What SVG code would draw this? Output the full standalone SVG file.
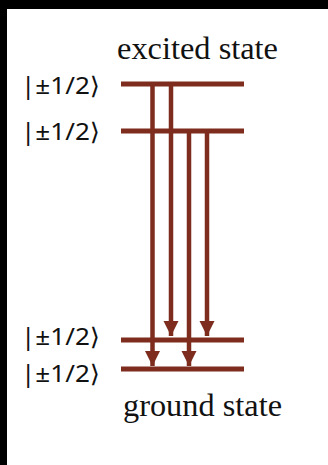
<svg xmlns="http://www.w3.org/2000/svg" width="328" height="465" viewBox="0 0 328 465">
  <style>
    .lvl { stroke: #7e2c1d; stroke-width: 5; stroke-linecap: butt; }
    .arr { stroke: #7e2c1d; stroke-width: 4.5; fill: none; }
    .ket { font-family: "Noto Sans", "DejaVu Sans", sans-serif; font-size: 24px; fill: #111; }
    .ttl { font-family: "Liberation Serif", "Times New Roman", serif; font-size: 31px; fill: #111; }
  </style>
  <defs>
    <marker id="ah" markerUnits="userSpaceOnUse" markerWidth="17" markerHeight="17" viewBox="0 0 17 17" refX="15" refY="8.5" orient="auto">
      <path d="M0,1 L15,8.5 L0,16 Z" fill="#7e2c1d"/>
    </marker>
  </defs>
  <rect x="0" y="0" width="328" height="465" fill="#ffffff"/>
  <rect x="0" y="0" width="328" height="9" fill="#000"/>
  <rect x="0" y="0" width="7" height="465" fill="#000"/>

  <text class="ttl" x="117" y="59" textLength="161" lengthAdjust="spacingAndGlyphs">excited state</text>
  <text class="ttl" x="123" y="416" textLength="159" lengthAdjust="spacingAndGlyphs">ground state</text>

  <g id="e1"><line class="lvl" x1="121" y1="84" x2="244" y2="84"/><text class="ket" x="21" y="94" textLength="79" lengthAdjust="spacingAndGlyphs">|±1/2⟩</text></g>
  <g id="e2"><line class="lvl" x1="121" y1="131" x2="244" y2="131"/><text class="ket" x="21" y="140" textLength="79" lengthAdjust="spacingAndGlyphs">|±1/2⟩</text></g>
  <g id="g1"><line class="lvl" x1="121" y1="340" x2="244" y2="340"/><text class="ket" x="21" y="345" textLength="79" lengthAdjust="spacingAndGlyphs">|±1/2⟩</text></g>
  <g id="g2"><line class="lvl" x1="121" y1="369" x2="244" y2="369"/><text class="ket" x="21" y="382" textLength="79" lengthAdjust="spacingAndGlyphs">|±1/2⟩</text></g>

  <g id="connectors">
    <line class="arr" x1="152.5" y1="84" x2="152.5" y2="366" marker-end="url(#ah)"/>
    <line class="arr" x1="171" y1="84" x2="171" y2="336" marker-end="url(#ah)"/>
    <line class="arr" x1="189" y1="131" x2="189" y2="366" marker-end="url(#ah)"/>
    <line class="arr" x1="207" y1="131" x2="207" y2="336" marker-end="url(#ah)"/>
  </g>
</svg>
